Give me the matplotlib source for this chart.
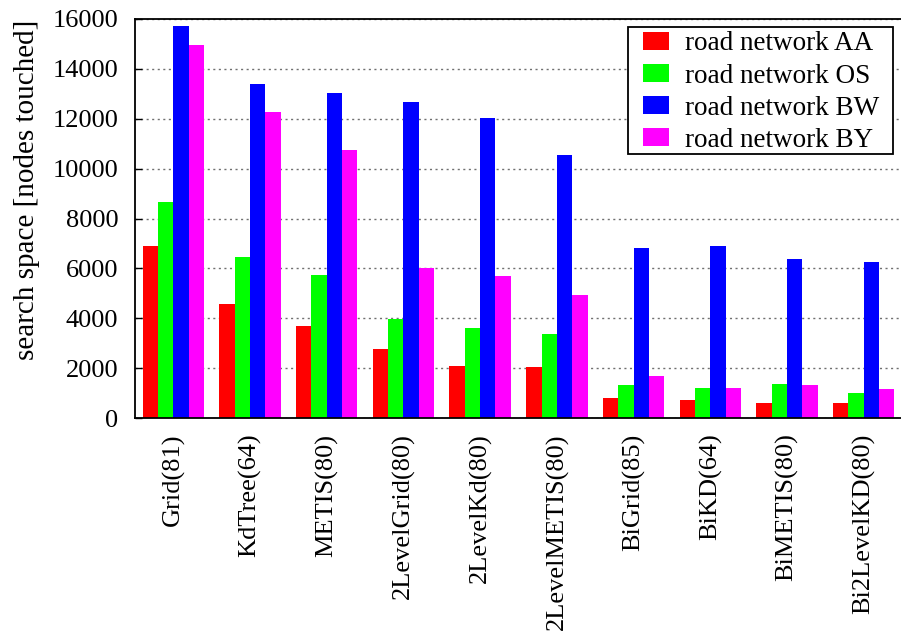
import numpy as np
import matplotlib
matplotlib.use("Agg")
import matplotlib.pyplot as plt
from matplotlib.patches import Rectangle

plt.rcParams['font.family'] = ['Liberation Serif', 'DejaVu Serif']

categories = ["Grid(81)", "KdTree(64)", "METIS(80)", "2LevelGrid(80)", "2LevelKd(80)",
              "2LevelMETIS(80)", "BiGrid(85)", "BiKD(64)", "BiMETIS(80)", "Bi2LevelKD(80)"]
series_names = ["road network AA", "road network OS", "road network BW", "road network BY"]
aa = [6880, 4585, 3705, 2760, 2105, 2065, 810, 730, 610, 610]
os_ = [8680, 6450, 5730, 3970, 3625, 3370, 1345, 1225, 1370, 1025]
bw = [15690, 13370, 13010, 12680, 12025, 10530, 6800, 6905, 6370, 6250]
by = [14930, 12250, 10730, 6010, 5690, 4930, 1690, 1200, 1345, 1160]
colors = ["#ff0000", "#00ff00", "#0000ff", "#ff00ff"]
yticks = [0, 2000, 4000, 6000, 8000, 10000, 12000, 14000, 16000]

W, H = 901, 635
fig = plt.figure(figsize=(W / 100, H / 100), dpi=100)
ax = fig.add_axes([135 / W, (H - 418.3) / H, (902 - 135) / W, (418.3 - 18.7) / H])

fs_tick = 19
fs_leg = 19.5
fs_lab = 21
x = np.arange(len(categories))
width = 0.2
for k, (vals, c, name) in enumerate(zip([aa, os_, bw, by], colors, series_names)):
    ax.bar(x + (k - 1.5) * width, vals, width, color=c, label=name, linewidth=0, zorder=2)

ax.set_xlim(-0.5, len(categories) - 0.5)
ax.set_ylim(0, 16000)
ax.set_yticks(yticks)
ax.set_yticklabels([str(v) for v in yticks], fontsize=fs_tick)
ax.set_xticks(x)
ax.set_xticklabels(categories, rotation=90, fontsize=fs_tick, ha='center', va='top')
ax.tick_params(axis='x', length=0, pad=11)
ax.tick_params(axis='y', direction='in', length=5, width=1.0, pad=12)
ax.yaxis.grid(True, linestyle=(0, (1.5, 2.5)), color='#707070', linewidth=1.0, zorder=0)
ax.set_axisbelow(True)
for s in ax.spines.values():
    s.set_linewidth(1.3)
    s.set_color('black')

fig.text(27 / W, 1 - 190 / H, "search space [nodes touched]", rotation=90,
         ha='center', va='center', fontsize=fs_lab)

# legend box drawn as a separate frame so the inner padding can differ per side
frame = Rectangle((628.3 / W, 1 - 154.3 / H), (892.7 - 628.3) / W, (154.3 - 26.7) / H,
                  transform=fig.transFigure, facecolor='white', edgecolor='black',
                  linewidth=1.3, zorder=5)
fig.add_artist(frame)
leg = fig.legend(*ax.get_legend_handles_labels(), loc='upper left',
                 bbox_to_anchor=(643.3 / W, 1 - 31.5 / H), fontsize=fs_leg,
                 frameon=False, borderaxespad=0, borderpad=0,
                 handlelength=0.96, handleheight=0.62, handletextpad=0.58,
                 labelspacing=0.26)
leg.set_zorder(6)

fig.savefig("out.png", dpi=100)
